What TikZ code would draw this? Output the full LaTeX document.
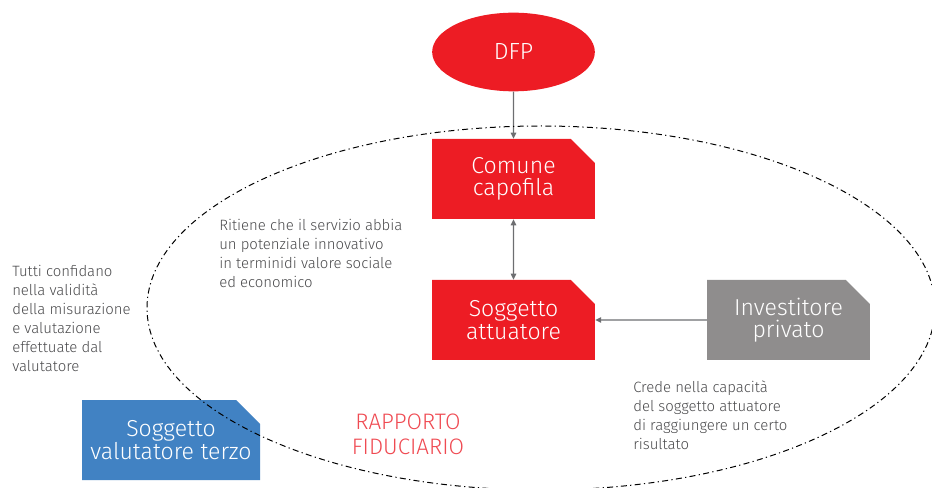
\documentclass[tikz,border=0pt]{standalone}
\usepackage{fontspec}
\setmainfont{Fira Sans}[UprightFont=* Light]
\usetikzlibrary{shapes.geometric,shapes.misc,arrows.meta}

\definecolor{dfpred}{HTML}{ED1C24}
\definecolor{fidred}{HTML}{EF4A52}
\definecolor{invgray}{HTML}{8F8D8D}
\definecolor{valblue}{HTML}{4182C3}
\definecolor{linkgray}{HTML}{6D6E71}
\definecolor{notegray}{HTML}{4A4A4C}

\tikzset{
  cutbox/.style={chamfered rectangle, chamfered rectangle corners=north east,
    chamfered rectangle xsep=9pt, chamfered rectangle ysep=9pt,
    minimum width=122pt, minimum height=60pt, inner sep=0pt,
    text=white, align=center, font=\fontsize{17.3}{16.8}\selectfont},
  note/.style={anchor=north west, inner sep=0pt, align=left, text=notegray,
    font=\fontsize{11.2}{14.25}\selectfont},
  link/.style={draw=linkgray, line width=1.1pt},
  tip/.tip={Triangle[length=4.5pt,width=4pt]}
}

\begin{document}
\begin{tikzpicture}[x=0.75pt,y=-0.75pt]
  \useasboundingbox (0,0) rectangle (932,488);

  % boxes
  \node[ellipse, fill=dfpred, minimum width=122pt, minimum height=59pt, inner sep=0pt,
    text=white, font=\fontsize{17.5}{17.5}\selectfont] (dfp) at (513.5,52) {DFP};
  \node[cutbox, fill=dfpred] (comune) at (513.5,179) {Comune\\capofila};
  \node[cutbox, fill=dfpred] (attuatore) at (513.5,320) {Soggetto\\attuatore};
  \node[cutbox, fill=invgray] (investitore) at (788.5,320) {Investitore\\privato};
  \node[cutbox, fill=valblue, minimum width=133.5pt, inner xsep=-6pt] (valutatore) at (171,440) {Soggetto\\valutatore terzo};

  % arrows
  \draw[link, -tip] (dfp) -- (comune);
  \draw[link, tip-tip] (comune) -- (attuatore);
  \draw[link, -tip] (investitore) -- (attuatore);

  % rapporto fiduciario
  \draw[black, line width=0.75pt, dash pattern=on 4.5pt off 2.5pt on 0.9pt off 2.5pt]
    (541,308) ellipse [x radius=295.5pt, y radius=136.5pt];
  \node[text=fidred, align=center, font=\fontsize{16.8}{18.75}\selectfont] (fiducia) at (408,434) {RAPPORTO\\FIDUCIARIO};

  % notes
  \node[note] (ritiene) at (219,219) {Ritiene che il servizio abbia\\un potenziale innovativo\\in terminidi valore sociale\\ed economico};
  \node[note] (tutti) at (12,265) {Tutti confidano\\nella validità\\della misurazione\\e valutazione\\effettuate dal\\valutatore};
  \node[note] (crede) at (633,381) {Crede nella capacità\\del soggetto attuatore\\di raggiungere un certo\\risultato};
\end{tikzpicture}
\end{document}
